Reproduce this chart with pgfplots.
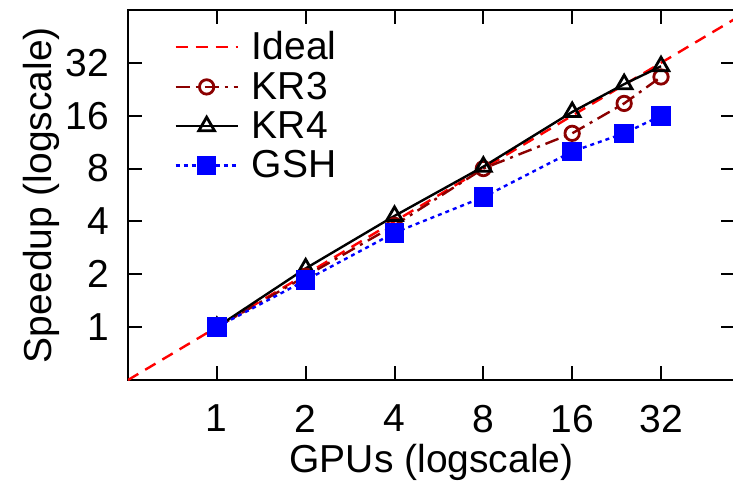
\documentclass[border=0pt]{standalone}
\usepackage{pgfplots}
\pgfplotsset{compat=1.18}
\usepackage{fontspec}
\setmainfont{Liberation Sans}
\usetikzlibrary{calc}

\definecolor{idealred}{RGB}{255,0,0}
\definecolor{krdark}{RGB}{139,0,0}
\definecolor{gshblue}{RGB}{0,0,255}

\begin{document}
\begin{tikzpicture}
\begin{axis}[
    scale only axis,
    width=303.5pt, height=185pt,
    xmode=log, ymode=log,
    log basis x=2, log basis y=2,
    xmin=0.5, xmax=57, ymin=0.5, ymax=64,
    xtick={1,2,4,8,16,32}, xticklabels={1,2,4,8,16,32},
    ytick={1,2,4,8,16,32}, yticklabels={1,2,4,8,16,32},
    minor tick num=0,
    tick align=inside,
    major tick length=7pt,
    tick style={black, line width=1pt},
    axis line style={line width=1.2pt},
    font=\fontsize{19.5}{22}\selectfont,
    /pgf/number format/assume math mode=true,
    xticklabel style={yshift=-9pt},
    yticklabel style={xshift=-6pt},
    xlabel={GPUs (logscale)},
    ylabel={Speedup (logscale)},
    xlabel style={yshift=1pt},
    ylabel style={yshift=-4pt},
    legend cell align=left,
    legend style={draw=none, fill=none, at={(0.066,0.965)}, anchor=north west,
        font=\fontsize{19.5}{19}\selectfont, row sep=0.6pt,
        /tikz/every odd column/.append style={column sep=4.5pt}},
    legend image code/.code={
        \draw[mark repeat=2,mark phase=2,#1] plot coordinates {(0pt,0pt) (15.5pt,0pt) (31pt,0pt)};
    },
]
\coordinate (bl) at (rel axis cs:0,0);
\coordinate (tr) at (rel axis cs:1,1);

\addplot[idealred, line width=1.2pt, dash pattern=on 6pt off 4pt] coordinates {(0.5,0.5) (64,64)};
\addlegendentry{Ideal}

\addplot[krdark, line width=1.2pt, dash pattern=on 7pt off 3pt on 1.5pt off 3pt,
    mark=o, mark size=3.6pt, mark options={solid, line width=1.4pt}] coordinates {
    (1,1) (2,1.95) (4,3.8) (8,8.0) (16,12.7) (24,18.8) (32,26.6)};
\addlegendentry{KR3}

\addplot[black, line width=1.2pt, mark=triangle, mark size=4.5pt,
    mark options={solid, line width=1.4pt}] coordinates {
    (1,1) (2,2.16) (4,4.3) (8,8.2) (16,16.8) (24,24.2) (32,30.6)};
\addlegendentry{KR4}

\addplot[gshblue, line width=1.2pt, dash pattern=on 2pt off 2pt,
    mark=square*, mark size=4.3pt, mark options={solid}] coordinates {
    (1,1) (2,1.85) (4,3.45) (8,5.5) (16,10.0) (24,12.7) (32,16.0)};
\addlegendentry{GSH}
\end{axis}
\pgfresetboundingbox
\path ($(bl)+(-64pt,-53.5pt)$) rectangle ($(tr)+(-1pt,5pt)$);
\end{tikzpicture}
\end{document}
